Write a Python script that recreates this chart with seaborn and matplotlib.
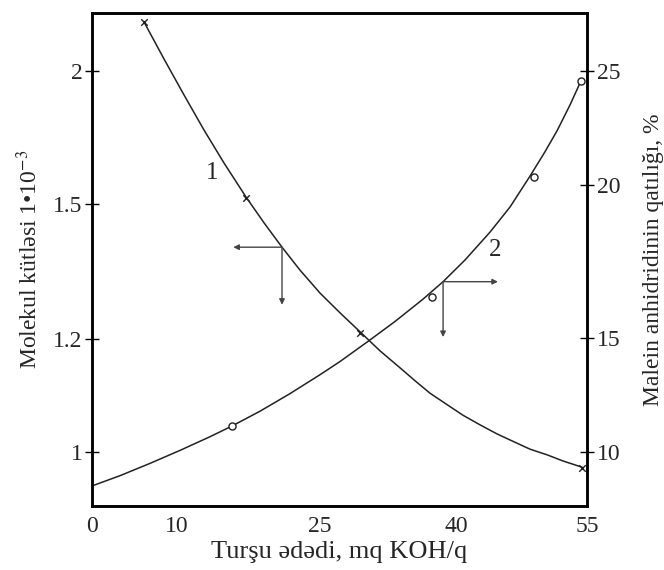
import matplotlib
matplotlib.use('Agg')
import matplotlib.pyplot as plt
import seaborn as sns
import numpy as np

# axis ticks as printed on the chart
x_ticks = [0, 10, 25, 40, 55]
mass_ticks = [1, 1.2, 1.5, 2]
conc_ticks = [10, 15, 20, 25]

# the printed axes are not evenly spaced: value -> distance along the axis
x_scale_vals = [0, 10, 25, 40, 55]
x_scale_pos = [0, 85, 228, 364, 495]
mass_scale_vals = [0.904, 1, 1.2, 1.5, 2, 2.218]
mass_scale_pos = [0, 54, 167, 302, 435, 493]
conc_scale_vals = [7.63, 10, 15, 20, 25, 27.54]
conc_scale_pos = [0, 54, 168, 321, 435, 493]

# curve 1: molecular mass (left axis)
c1_x = [6.12, 8.47, 10.73, 12.83, 14.93, 17.24, 19.13, 21.01, 22.90, 25.0, 27.21, 29.41,
        31.62, 33.82, 35.48, 37.13, 38.90, 40.80, 42.75, 44.69, 46.64, 48.47, 50.42, 52.25, 54.43]
c1_y = [2.184, 2.045, 1.910, 1.778, 1.654, 1.526, 1.458, 1.404, 1.353, 1.302, 1.258, 1.216,
        1.179, 1.149, 1.126, 1.104, 1.085, 1.065, 1.048, 1.032, 1.018, 1.005, 0.995, 0.984, 0.973]
c1_pts_x = [6.12, 17.24, 29.41, 54.43]
c1_pts_y = [2.184, 1.523, 1.213, 0.972]

# curve 2: maleic anhydride content (right axis)
c2_x = [0, 3.29, 6.82, 10.31, 13.46, 15.77, 18.71, 21.85, 25.0, 27.21, 30.29, 33.27,
        36.36, 38.57, 41.03, 43.89, 46.18, 48.47, 50.19, 51.57, 53.05, 54.31]
c2_y = [8.51, 8.96, 9.50, 10.07, 10.67, 11.14, 11.79, 12.56, 13.39, 13.97, 14.85, 15.54,
        16.27, 16.84, 17.55, 18.46, 19.28, 20.39, 21.46, 22.38, 23.51, 24.57]
c2_pts_x = [15.77, 37.35, 48.93, 54.31]
c2_pts_y = [11.14, 16.34, 20.35, 24.56]

# arrow corners (on curve) and arrow ends
arrow1 = dict(x0=21.01, y0=1.404, x_end=15.9, y_end=1.276)
arrow2 = dict(x0=38.57, y0=16.84, x_end=44.8, y_end=15.03)


def uneven_scale(vals, pos):
    vals = np.asarray(vals, float)
    pos = np.asarray(pos, float)
    return (lambda v: np.interp(v, vals, pos), lambda p: np.interp(p, pos, vals))


sns.set_theme(style='white')
plt.rcParams['font.family'] = ['Liberation Serif', 'DejaVu Serif']
plt.rcParams['mathtext.fontset'] = 'stix'

fig = plt.figure(figsize=(6.64, 5.70), dpi=100)
ax = fig.add_axes([0.1386, 0.1123, 0.7455, 0.8649])
ax.set_xscale('function', functions=uneven_scale(x_scale_vals, x_scale_pos))
ax.set_yscale('function', functions=uneven_scale(mass_scale_vals, mass_scale_pos))
ax.set_xlim(0, 55)
ax.set_ylim(mass_scale_vals[0], mass_scale_vals[-1])

ax2 = ax.twinx()
ax2.set_yscale('function', functions=uneven_scale(conc_scale_vals, conc_scale_pos))
ax2.set_ylim(conc_scale_vals[0], conc_scale_vals[-1])

line_col = '#222222'
sns.lineplot(x=c1_x, y=c1_y, ax=ax, color=line_col, lw=1.1, sort=False, estimator=None)
sns.scatterplot(x=c1_pts_x, y=c1_pts_y, ax=ax, marker='x', s=22, color=line_col, linewidth=1, zorder=5)
sns.lineplot(x=c2_x, y=c2_y, ax=ax2, color=line_col, lw=1.1, sort=False, estimator=None)
ax2.scatter(c2_pts_x, c2_pts_y, marker='o', s=26, facecolors='white', edgecolors=line_col, linewidths=1, zorder=5)

arrow_kw = dict(arrowstyle='-|>', color='#444444', lw=1, mutation_scale=8, shrinkA=0, shrinkB=0)
ax.annotate('', xy=(arrow1['x_end'], arrow1['y0']), xytext=(arrow1['x0'], arrow1['y0']), arrowprops=arrow_kw)
ax.annotate('', xy=(arrow1['x0'], arrow1['y_end']), xytext=(arrow1['x0'], arrow1['y0']), arrowprops=arrow_kw)
ax2.annotate('', xy=(arrow2['x_end'], arrow2['y0']), xytext=(arrow2['x0'], arrow2['y0']), arrowprops=arrow_kw)
ax2.annotate('', xy=(arrow2['x0'], arrow2['y_end']), xytext=(arrow2['x0'], arrow2['y0']), arrowprops=arrow_kw)

ax.text(13.7, 1.617, '1', fontsize=18, ha='center', va='center')
ax2.text(44.5, 17.88, '2', fontsize=18, ha='center', va='center')

ax.set_xticks(x_ticks)
ax.set_xticklabels([str(v) for v in x_ticks])
ax.set_yticks(mass_ticks)
ax.set_yticklabels(['1', '1.2', '1.5', '2'])
ax2.set_yticks(conc_ticks)
ax2.set_yticklabels([str(v) for v in conc_ticks])
ax.minorticks_off()
ax2.minorticks_off()

for a in (ax, ax2):
    a.tick_params(direction='inout', length=10, width=1, labelsize=17, color='black', pad=2)
    for s in a.spines.values():
        s.set_color('black')
        s.set_linewidth(1.8)
    a.grid(False)

ax.set_xlabel('Turşu ədədi, mq KOH/q', fontsize=19, labelpad=3)
ax.set_ylabel('Molekul kütləsi 1•10$^{-3}$', fontsize=17, labelpad=8)
ax2.set_ylabel('Malein anhidridinin qatılığı, %', fontsize=17, labelpad=16)

fig.savefig('out.png', dpi=100)
plt.close(fig)
